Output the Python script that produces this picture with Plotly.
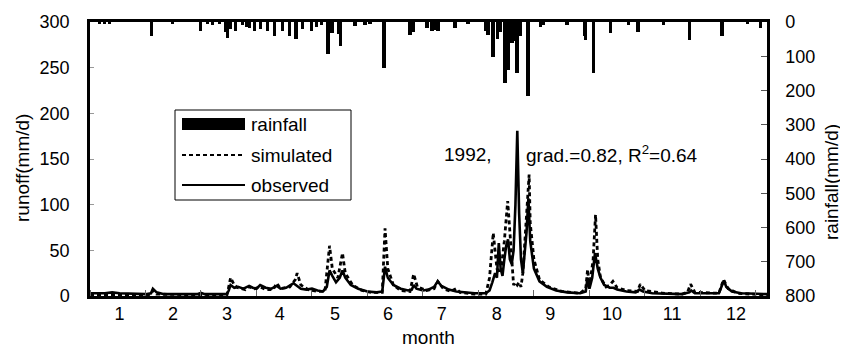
import plotly.graph_objects as go

# ---- data (x in day of year 1992) ----
rain_day = [5.1, 7.9, 10.6, 33.3, 44.7, 59.8, 63.6, 66.3, 70.1, 73.4, 74.4, 76.1, 78.8, 82.6, 84.7,
            86.4, 88.9, 92.3, 96.1, 99.7, 104.2, 107.9, 111.4, 115.0, 119.9, 122.6, 125.3, 128.7,
            130.8, 134.5, 135.6, 143.2, 148.6, 151.3, 158.9, 173.0, 174.6, 182.2, 184.9, 186.5,
            188.1, 197.3, 204.4, 214.1, 215.2, 217.8, 220.3, 221.7, 224.4, 226.2, 228.2, 229.8,
            230.8, 232.5, 236.7, 243.4, 245.0, 257.8, 267.2, 267.7, 272.2, 281.3, 291.0, 296.3,
            310.0, 324.0, 341.7, 355.4, 362.5]
rain_mm = [6, 5, 4, 40, 6, 25, 6, 8, 5, 30, 47, 20, 27, 10, 15,
           18, 27, 20, 27, 42, 27, 40, 50, 20, 27, 15, 8, 93,
           32, 35, 71, 12, 8, 6, 134, 38, 28, 18, 25, 22,
           25, 18, 6, 25, 38, 101, 51, 30, 178, 139, 60, 56,
           149, 40, 217, 15, 10, 10, 40, 52, 149, 32, 10, 29,
           8, 52, 42, 6, 18]

obs_day = [0, 8, 12, 16, 30, 33, 34, 36, 40, 58, 60, 62, 74, 75, 76, 78, 80, 83, 86, 88, 90, 92, 95,
           98, 101, 103, 106, 108, 110, 112, 114, 117, 120, 123, 126, 128, 129.5, 131, 133, 135,
           136.5, 138, 141, 145, 150, 155, 158, 159.5, 161, 164, 168, 172, 174, 175, 176.5, 180,
           183, 186, 188, 190, 194, 198, 202, 208, 214, 216, 217.5, 219, 220, 221, 222, 223, 224,
           225, 226, 227, 228, 229, 230, 231, 232, 233, 234, 235, 236, 237, 238, 240, 243, 247,
           252, 258, 265, 268, 269, 270, 271.5, 273, 274.5, 276, 278, 281, 283, 285, 290, 295,
           297, 299, 304, 320, 324, 325, 327, 340, 342, 342.7, 344, 347, 352, 366]
obs_q = [3, 3, 4, 3, 2, 3, 8, 4, 2, 2, 3.5, 2, 2, 6, 12, 9, 10, 8, 11, 9, 8, 12, 9,
         8, 11, 8, 9, 12, 14, 11, 8, 7, 8, 6, 5, 10, 28, 22, 15, 20,
         28, 20, 12, 8, 5, 4, 5, 32, 20, 12, 8, 6, 7, 12, 8, 6,
         7, 10, 16, 11, 7, 5, 4, 3, 3, 6, 15, 25, 20, 58, 30, 22, 40,
         55, 62, 40, 35, 50, 100, 181, 90, 40, 25, 45, 70, 107, 60, 30, 16, 10,
         6, 4, 3, 5, 20, 8, 20, 47, 30, 20, 12, 9, 9, 7, 5, 4,
         7, 5, 3, 2, 4, 6, 3, 3, 12, 17, 10, 5, 3, 2]

sim_day = [0, 30, 33, 34, 36, 60, 74, 75, 76, 78, 80, 84, 86, 89, 92, 95, 99, 101, 103, 108, 111,
           112, 114, 118, 123, 127, 129.5, 131, 134, 136.5, 138, 142, 147, 152, 158, 159.5, 161,
           164, 168, 173, 175, 177, 182, 186, 188, 191, 195, 198, 200, 208, 214, 216, 218, 220,
           222, 224, 225.8, 227, 228, 229, 230, 231, 232, 233, 234, 236, 237.4, 238, 240, 243,
           248, 255, 265, 268, 269, 270, 272, 273.3, 274.5, 276, 279, 281, 282.7, 285, 290, 296,
           297.5, 300, 310, 320, 323, 324.7, 327, 340, 342.5, 345, 350, 366]
sim_q = [1, 1, 2, 6, 2, 1, 1, 10, 20, 12, 9, 7, 10, 8, 10, 7, 7, 14, 8, 10, 18,
         25, 12, 7, 5, 5, 55, 30, 20, 47, 25, 12, 6, 4, 4, 74, 30,
         12, 6, 5, 24, 10, 6, 8, 16, 8, 5, 8, 4, 2, 2, 20, 69, 30,
         25, 60, 104, 70, 35, 12, 15, 12, 15, 10, 25, 90, 133, 80, 40, 18,
         10, 5, 3, 8, 29, 10, 40, 89, 40, 20, 10, 12, 16, 9, 6, 5,
         13, 6, 3, 2, 4, 13, 4, 3, 18, 8, 3, 1]

month_pos = [16, 44.9, 74, 102.6, 132.4, 161.1, 190.1, 219.9, 248.8, 282.2, 314.7, 349.3]
month_lbl = [str(m) for m in range(1, 13)]

FONT = "Liberation Sans, Arial, sans-serif"

fig = go.Figure()
fig.add_trace(go.Bar(x=rain_day, y=rain_mm, yaxis="y2", width=1.8,
                     marker=dict(color="black", line=dict(width=0)),
                     name="rainfall", showlegend=False))
fig.add_trace(go.Scatter(x=sim_day, y=sim_q, mode="lines", name="simulated",
                         line=dict(color="black", width=2.8, dash="4px,3px"), showlegend=False))
fig.add_trace(go.Scatter(x=obs_day, y=obs_q, mode="lines", name="observed",
                         line=dict(color="black", width=2.6), showlegend=False))

# page body has an 8px margin: figure is 840x342 placed at (8,8)
fig.update_layout(
    width=840, height=342,
    margin=dict(l=82, r=81, t=14, b=54, autoexpand=False),
    paper_bgcolor="white", plot_bgcolor="white",
    font=dict(family=FONT, color="black", size=18),
    bargap=0,
    xaxis=dict(range=[0, 366], showgrid=False, zeroline=False, automargin=False,
               showline=True, linecolor="black", linewidth=2.5, mirror=True,
               tickmode="array", tickvals=month_pos, ticktext=month_lbl, ticks="",
               tickfont=dict(size=18),
               minor=dict(tickmode="linear", tick0=0, dtick=30, ticks="inside",
                          ticklen=6, tickwidth=1, tickcolor="#666", showgrid=False)),
    yaxis=dict(range=[0, 300], showgrid=False, zeroline=False, automargin=False,
               showline=True, linecolor="black", linewidth=2.5,
               tickvals=[0, 50, 100, 150, 200, 250, 300], ticks="inside", ticklen=4,
               tickcolor="#999", tickwidth=1, ticklabelstandoff=14,
               tickfont=dict(size=18)),
    yaxis2=dict(range=[800, 0], overlaying="y", side="right", showgrid=False, automargin=False,
                zeroline=False, showline=True, linecolor="black", linewidth=2.5,
                tickvals=[0, 100, 200, 300, 400, 500, 600, 700, 800], ticks="inside",
                ticklen=6, tickcolor="#555", tickwidth=1, ticklabelstandoff=12,
                tickfont=dict(size=18)),
)

# manual legend (paper coords; reference pixel positions -> plot-area fraction)
def px(x):
    return (x - 90) / 677.0

def py(y):
    return (296 - y) / 274.0

shapes = [
    dict(type="rect", xref="paper", yref="paper", x0=px(175), x1=px(351), y0=py(200), y1=py(110),
         line=dict(color="black", width=1), fillcolor="white", layer="above"),
    dict(type="rect", xref="paper", yref="paper", x0=px(182), x1=px(245), y0=py(130), y1=py(118),
         line=dict(width=0), fillcolor="black", layer="above"),
    dict(type="line", xref="paper", yref="paper", x0=px(182), x1=px(245), y0=py(155), y1=py(155),
         line=dict(color="black", width=2, dash="4px,3px"), layer="above"),
    dict(type="line", xref="paper", yref="paper", x0=px(182), x1=px(245), y0=py(185), y1=py(185),
         line=dict(color="black", width=2), layer="above"),
]
fig.update_layout(shapes=shapes)

ann = []
for txt, yy in [("rainfall", 124), ("simulated", 155), ("observed", 185)]:
    ann.append(dict(xref="paper", yref="paper", x=px(249), y=py(yy), text=txt, showarrow=False,
                    xanchor="left", yanchor="middle", font=dict(size=19)))
ann.append(dict(xref="paper", yref="paper", x=px(468), y=py(154), text="1992,", showarrow=False,
                xanchor="center", yanchor="middle", font=dict(size=19)))
ann.append(dict(xref="paper", yref="paper", x=px(524), y=py(154),
                text="grad.=0.82, R<sup>2</sup>=0.64", showarrow=False,
                xanchor="left", yanchor="middle", font=dict(size=19)))
# axis titles
ann.append(dict(xref="paper", yref="paper", x=px(428), y=py(337), text="month", showarrow=False,
                xanchor="center", yanchor="middle", font=dict(size=19)))
ann.append(dict(xref="paper", yref="paper", x=px(22), y=py(168), text="runoff(mm/d)",
                showarrow=False, textangle=-90, xanchor="center", yanchor="middle",
                font=dict(size=19)))
ann.append(dict(xref="paper", yref="paper", x=px(831), y=py(182), text="rainfall(mm/d)",
                showarrow=False, textangle=-90, xanchor="center", yanchor="middle",
                font=dict(size=19)))
fig.update_layout(annotations=ann)

fig.write_html("out.html")
